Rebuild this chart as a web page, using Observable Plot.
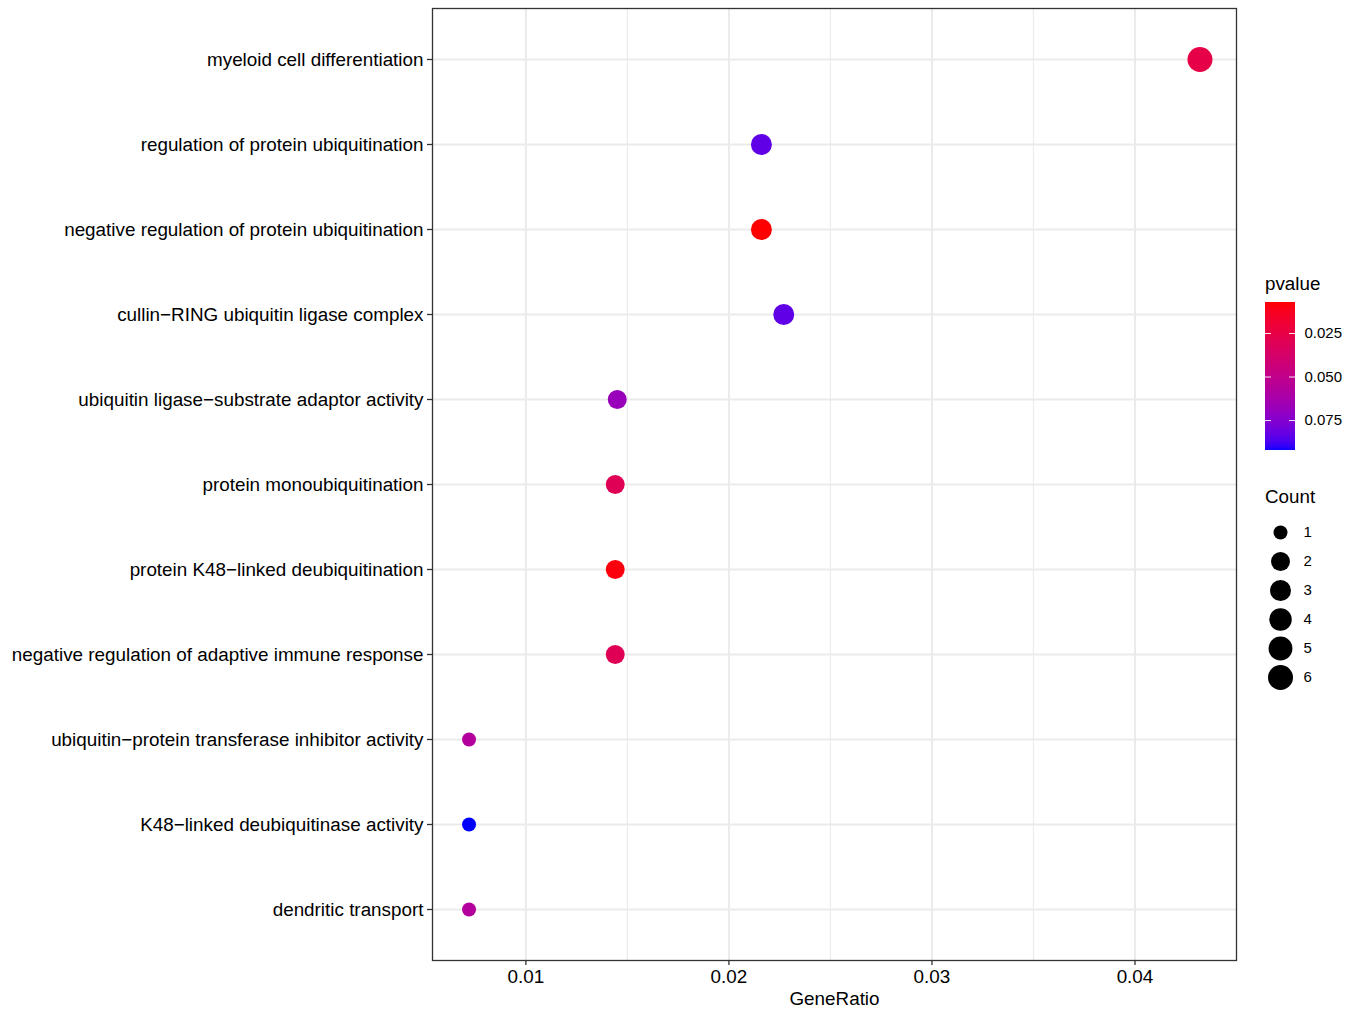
<!DOCTYPE html>
<html><head><meta charset="utf-8">
<script src="https://cdn.jsdelivr.net/npm/d3@7"></script>
<script src="https://cdn.jsdelivr.net/npm/@observablehq/plot@0.6"></script>
<style>
body{margin:0;background:#fff;font-family:"Liberation Sans",Arial,Helvetica,sans-serif;}
#wrap{position:relative;width:1360px;height:1009px;overflow:hidden;}
#main{position:absolute;left:0;top:0;}
#colleg{position:absolute;left:1255px;top:295px;}
#sizeleg{position:absolute;left:1260px;top:500px;}
.ltitle{position:absolute;font-size:18.8px;line-height:1;color:#000;}
</style></head><body>
<div id="wrap">
  <div id="main"></div>
  <div class="ltitle" style="left:1265px;top:275px;">pvalue</div>
  <div id="colleg"></div>
  <div class="ltitle" style="left:1265px;top:488px;">Count</div>
  <div id="sizeleg"></div>
</div>
<script>
// ---- data ----
const terms = [
  "myeloid cell differentiation",
  "regulation of protein ubiquitination",
  "negative regulation of protein ubiquitination",
  "cullin\u2212RING ubiquitin ligase complex",
  "ubiquitin ligase\u2212substrate adaptor activity",
  "protein monoubiquitination",
  "protein K48\u2212linked deubiquitination",
  "negative regulation of adaptive immune response",
  "ubiquitin\u2212protein transferase inhibitor activity",
  "K48\u2212linked deubiquitinase activity",
  "dendritic transport"
];
const geneRatio = [0.0432, 0.0216, 0.0216, 0.0227, 0.0145, 0.0144, 0.0144, 0.0144, 0.0072, 0.0072, 0.0072];
const pvalue    = [0.026, 0.084, 0.0072, 0.084, 0.068, 0.031, 0.009, 0.031, 0.057, 0.0922, 0.057];
const count     = [6, 3, 3, 3, 2, 2, 2, 2, 1, 1, 1];
const xTicks = [0.01, 0.02, 0.03, 0.04];
const xMinor = [0.015, 0.025, 0.035];
const pTicks = [0.025, 0.050, 0.075];
const countLevels = [1, 2, 3, 4, 5, 6];

const data = terms.map((t, i) => ({term: t, ratio: geneRatio[i], p: pvalue[i], count: count[i]}));
const pExtent = d3.extent(pvalue);
const [xr0, xr1] = d3.extent(geneRatio);
const xpad = (xr1 - xr0) * 0.05;

const colorOpts = {type: "linear", domain: pExtent, range: ["red", "blue"], interpolate: "lab"};
const rOpts = {type: "sqrt", domain: [0, 5], range: [7, 12.5]};
const FONT = '"Liberation Sans", Arial, Helvetica, sans-serif';
const AX = "18.85px";

// ---- main panel ----
const main = Plot.plot({
  width: 1360, height: 1009,
  marginLeft: 432, marginRight: 124, marginTop: 8, marginBottom: 49,
  style: {fontFamily: FONT, fontSize: AX, color: "#000", background: "#fff", overflow: "visible"},
  x: {domain: [xr0 - xpad, xr1 + xpad]},
  y: {type: "point", domain: terms, padding: 0.6},
  color: colorOpts,
  r: rOpts,
  marks: [
    Plot.ruleX(xMinor, {stroke: "#ebebeb", strokeWidth: 1.2}),
    Plot.ruleX(xTicks, {stroke: "#ebebeb", strokeWidth: 2}),
    Plot.ruleY(terms, {y: d => d, stroke: "#ebebeb", strokeWidth: 2}),
    Plot.axisX({ticks: xTicks, tickFormat: d3.format(".2f"), tickSize: 5, tickPadding: 4, stroke: "#333", strokeWidth: 1.3, fill: "#000", label: null, fontSize: AX}),
    Plot.axisY({tickSize: 5, tickPadding: 4, stroke: "#333", strokeWidth: 1.3, fill: "#000", label: null, fontSize: AX}),
    Plot.text(["GeneRatio"], {frameAnchor: "bottom", dy: 44, text: d => d, fontSize: AX, fill: "#000"}),
    Plot.dot(data, {x: "ratio", y: "term", r: d => d.count - 1, fill: "p", stroke: null}),
    Plot.frame({stroke: "#333", strokeWidth: 1.3})
  ]
});
document.getElementById("main").append(main);

// ---- colour bar legend ----
const nSteps = 150;
const span = pExtent[1] - pExtent[0];
const slices = d3.range(nSteps).map(i => ({
  a: pExtent[0] + span * i / nSteps,
  b: pExtent[0] + span * Math.min(i + 2, nSteps) / nSteps
}));
const colLeg = Plot.plot({
  width: 100, height: 160,
  marginLeft: 10, marginRight: 60, marginTop: 7, marginBottom: 5,
  style: {fontFamily: FONT, fontSize: "15px", color: "#000", overflow: "visible"},
  x: {domain: [0, 1], axis: null},
  y: {domain: pExtent, reverse: true, axis: null},
  color: colorOpts,
  marks: [
    Plot.rect(slices, {x1: 0, x2: 1, y1: "a", y2: "b", fill: d => d.a + span / nSteps / 2, shapeRendering: "crispEdges"}),
    Plot.ruleY(pTicks, {y: d => d, x1: 0, x2: 0.2, stroke: "#fff", strokeWidth: 0.9}),
    Plot.ruleY(pTicks, {y: d => d, x1: 0.8, x2: 1, stroke: "#fff", strokeWidth: 0.9}),
    Plot.text(pTicks, {y: d => d, x: 1, dx: 9, textAnchor: "start", text: d => d3.format(".3f")(d), fill: "#000", fontSize: "15px"})
  ]
});
document.getElementById("colleg").append(colLeg);

// ---- size legend ----
const sizeLeg = Plot.plot({
  width: 100, height: 200,
  marginLeft: 20, marginRight: 10, marginTop: 30, marginBottom: 21,
  style: {fontFamily: FONT, fontSize: "15px", color: "#000", overflow: "visible"},
  y: {type: "point", domain: countLevels, padding: 0, axis: null},
  r: rOpts,
  marks: [
    Plot.dot(countLevels, {y: d => d, r: d => d - 1, fill: "#000", frameAnchor: "left"}),
    Plot.text(countLevels, {y: d => d, text: d => String(d), frameAnchor: "left", dx: 23, textAnchor: "start", fill: "#000", fontSize: "15px"})
  ]
});
document.getElementById("sizeleg").append(sizeLeg);
</script>
</body></html>
